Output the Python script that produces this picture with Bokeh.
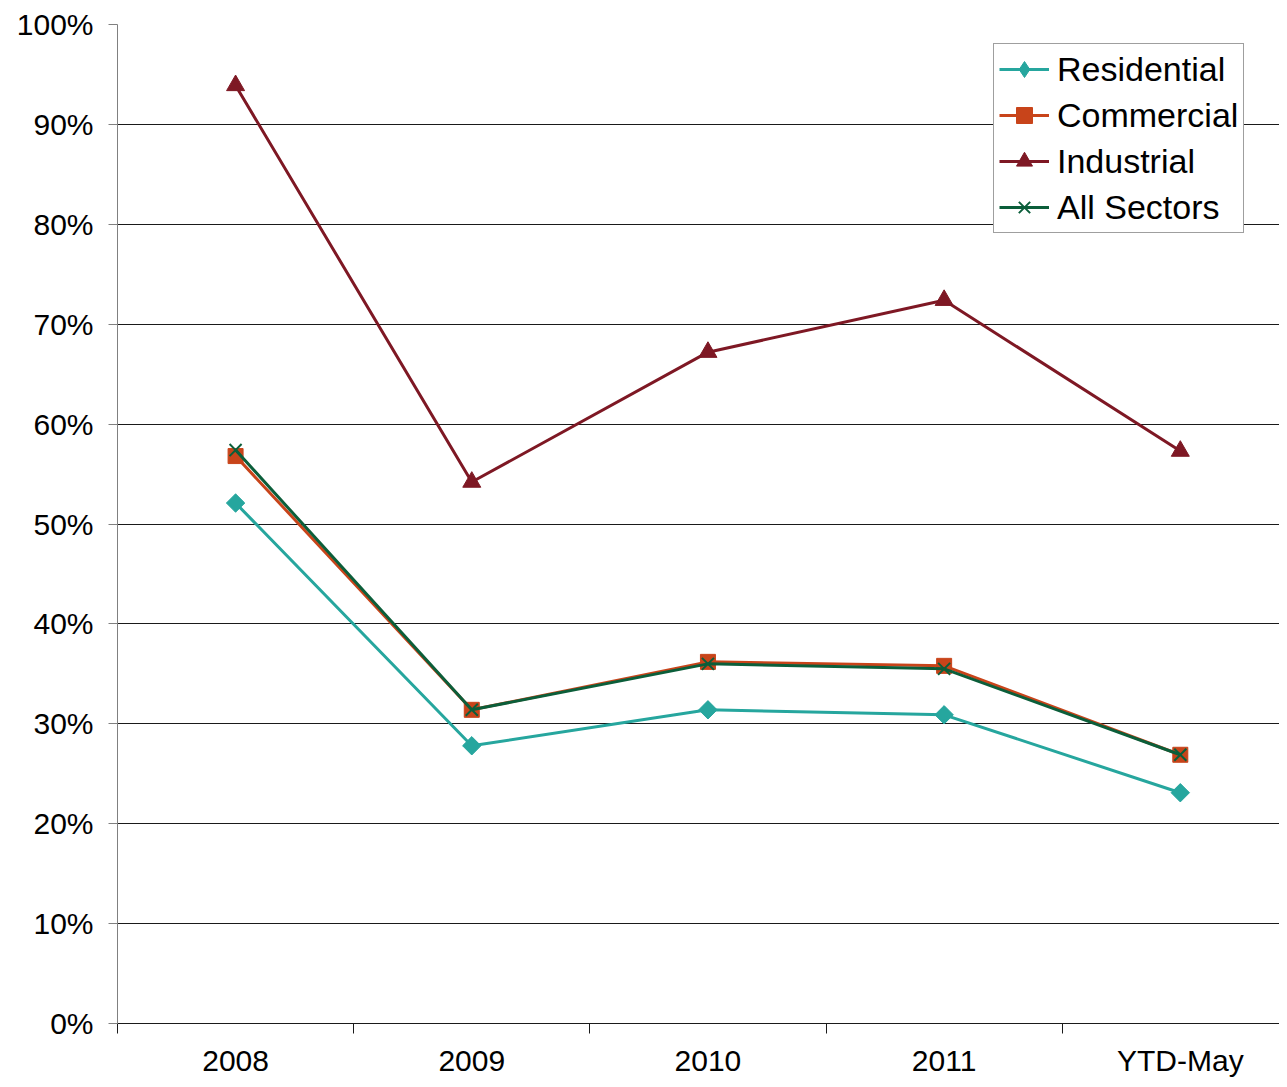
import math
from bokeh.plotting import figure
from bokeh.models import FixedTicker, NumeralTickFormatter, Legend, LegendItem, Range1d
from bokeh.embed import file_html
from bokeh.resources import INLINE

categories = ["2008", "2009", "2010", "2011", "YTD-May"]
residential = [0.521, 0.278, 0.314, 0.309, 0.231]
commercial = [0.568, 0.314, 0.362, 0.358, 0.269]
industrial = [0.939, 0.542, 0.672, 0.724, 0.573]
all_sectors = [0.574, 0.314, 0.360, 0.355, 0.269]
y_ticks = [0.0, 0.1, 0.2, 0.3, 0.4, 0.5, 0.6, 0.7, 0.8, 0.9, 1.0]

xs = list(range(len(categories)))
FONT = "Liberation Sans"

p = figure(width=1279, height=1079, output_backend="svg", toolbar_location=None,
           x_range=Range1d(-0.5, 4.42), y_range=Range1d(0, 1.0),
           min_border_left=117, min_border_top=24, min_border_bottom=55, min_border_right=0)
p.outline_line_color = None
p.background_fill_color = "white"

# Y axis
p.yaxis.ticker = FixedTicker(ticks=y_ticks)
p.yaxis.formatter = NumeralTickFormatter(format="0%")
p.yaxis.major_label_text_font = FONT
p.yaxis.major_label_text_font_size = "30px"
p.yaxis.major_label_text_color = "black"
p.yaxis.axis_line_color = "#808080"
p.yaxis.major_tick_line_color = "#808080"
p.yaxis.major_tick_out = 9
p.yaxis.major_tick_in = 0
p.yaxis.minor_tick_line_color = None
p.yaxis.major_label_standoff = 15

# X axis
p.xaxis.ticker = FixedTicker(ticks=xs, minor_ticks=[-0.5, 0.5, 1.5, 2.5, 3.5, 4.5])
p.xaxis.major_label_overrides = {i: c for i, c in enumerate(categories)}
p.xaxis.major_label_text_font = FONT
p.xaxis.major_label_text_font_size = "30px"
p.xaxis.major_label_text_color = "black"
p.xaxis.axis_line_color = "#1a1a1a"
p.xaxis.major_tick_line_color = None
p.xaxis.major_tick_out = 0
p.xaxis.major_tick_in = 0
p.xaxis.minor_tick_line_color = "#1a1a1a"
p.xaxis.minor_tick_out = 10
p.xaxis.minor_tick_in = 0
p.xaxis.major_label_standoff = 10

# Grid
p.xgrid.grid_line_color = None
p.ygrid.ticker = FixedTicker(ticks=y_ticks[1:-1])
p.ygrid.grid_line_color = "#1a1a1a"
p.ygrid.grid_line_width = 1

series = [
    ("Residential", residential, "#26a69e", "square", 13, math.pi / 4),
    ("Commercial", commercial, "#c8441a", "square", 15, 0),
    ("Industrial", industrial, "#7e1824", "triangle", 18, 0),
    ("All Sectors", all_sectors, "#0b5e3a", "x", 17, 0),
]

items = []
for name, vals, color, marker, size, ang in series:
    l = p.line(xs, vals, line_color=color, line_width=3)
    if marker == "x":
        s = p.scatter(xs, vals, marker="x", size=size, line_color=color, line_width=2)
    else:
        s = p.scatter(xs, vals, marker=marker, size=size, angle=ang,
                      fill_color=color, line_color=color)
    if ang != 0:
        # legend-only glyph (no data shown in plot) to get a diamond in the legend
        s = p.scatter([float("nan")], [float("nan")], marker="diamond", size=size,
                      fill_color=color, line_color=color)
    items.append(LegendItem(label=name, renderers=[l, s]))

legend = Legend(items=items, location=(876, 790))
legend.label_text_font = FONT
legend.label_text_font_size = "34px"
legend.label_text_color = "black"
legend.glyph_width = 50
legend.glyph_height = 40
legend.label_height = 39
legend.spacing = 6
legend.padding = 5
legend.margin = 0
legend.label_standoff = 8
legend.border_line_color = "#404040"
legend.border_line_width = 1
legend.background_fill_color = "white"
legend.background_fill_alpha = 1
p.add_layout(legend, "center")

open("out.html", "w").write(file_html(p, INLINE))
